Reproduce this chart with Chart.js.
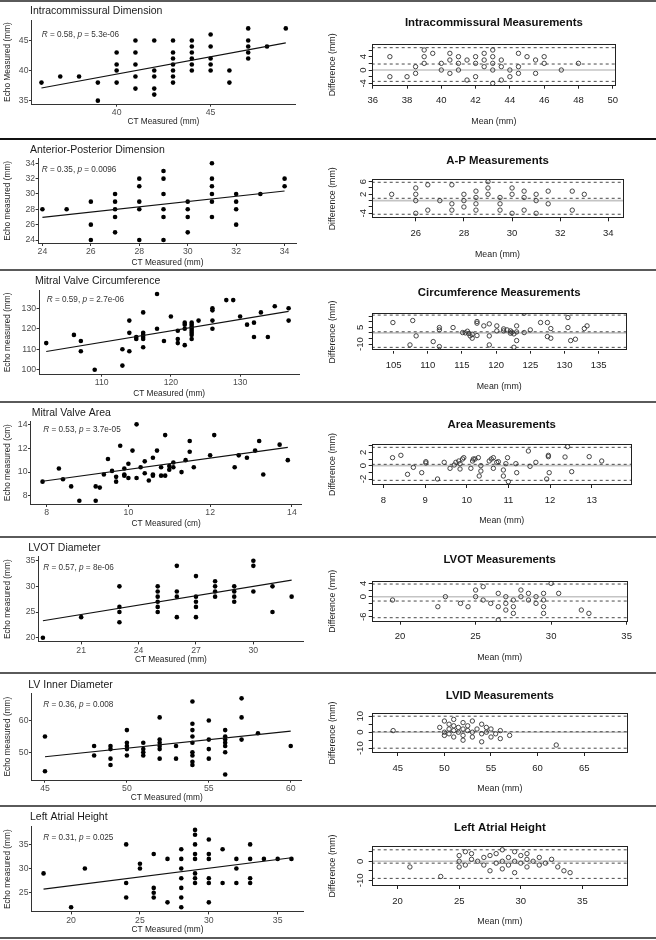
<!DOCTYPE html>
<html>
<head>
<meta charset="utf-8">
<title>CT vs Echo measurements</title>
<script src="https://cdn.jsdelivr.net/npm/chart.js@4.4.1/dist/chart.umd.min.js"></script>
<style>
  html, body { margin: 0; padding: 0; background: #fff; }
  body { position: relative; width: 656px; height: 940px; overflow: hidden; }
  canvas { position: absolute; }
  .rule { position: absolute; left: 0; width: 656px; height: 2px; background: #5a5a5a; }
</style>
</head>
<body>
<script>
const FONT = "'Liberation Sans', Arial, Helvetica, sans-serif";
Chart.defaults.font.family = FONT;
Chart.defaults.animation = false;

// y of the horizontal rules between rows
const rowRules = [1, 139, 270, 402, 537, 673, 806, 938];

// ---------- Intracommissural ----------
const icCT   = [36,37,38,39,39,40,40,40,40,41,41,41,41,41,42,42,42,42,42,43,43,43,43,43,43,43,44,44,44,44,44,44,45,45,45,45,45,46,46,47,47,47,47,47,48,49];
const icEcho = [38,39,39,38,35,43,41,40,38,45,43,41,39,37,45,40,39,37,36,45,43,42,41,40,39,38,45,44,43,42,41,40,46,44,42,41,40,40,38,47,45,44,43,42,44,47];
const icFitX = [36, 49];
const icFitY = [37.1, 44.6];
const icStat = ['0.58', '5.3e-06'];
const icXTicks = [40, 45];
const icYTicks = [35, 40, 45];
const icMean = [37,37,38,38.5,38.5,39,39,39,39.5,40,40,40.5,40.5,40.5,41,41,41,41.5,41.5,42,42,42,42.5,42.5,42.5,43,43,43,43,43,43.5,43.5,43.5,44,44,44.5,44.5,44.5,45,45.5,45.5,46,46,47,48];
const icDiff = [4,-2,-2,1,-1,6,4,2,5,2,0,5,3,-1,4,2,0,3,-3,4,2,-2,5,3,1,6,4,2,0,-4,3,1,-3,0,-2,5,1,-1,4,3,-1,4,2,0,2];
const icLoA  = [-3.4, 1.8, 6.7];
const icBaXTicks = [36, 38, 40, 42, 44, 46, 48, 50];
const icBaYTicks = [-4, -2, 0, 2, 4, 6];
const icBaYLabels = [-4, 0, 4];

// ---------- Anterior-Posterior ----------
const apCT   = [24,25,26,26,26,27,27,27,27,27,28,28,28,28,28,29,29,29,29,29,29,30,30,30,30,31,31,31,31,31,31,32,32,32,32,33,34,34];
const apEcho = [28,28,29,26,24,30,29,28,27,25,32,31,29,28,24,33,32,30,28,27,24,29,28,27,25,34,32,31,30,29,27,30,29,28,26,30,32,31];
const apFitX = [24, 34];
const apFitY = [26.96, 30.39];
const apStat = ['0.35', '0.0096'];
const apXTicks = [24, 26, 28, 30, 32, 34];
const apYTicks = [24, 26, 28, 30, 32, 34];
const apMean = [25,26,26,26,26,26.5,26.5,27,27.5,27.5,27.5,28,28,28,28.5,28.5,28.5,28.5,29,29,29,29.5,29.5,29.5,30,30,30,30.5,30.5,30.5,31,31,31,31.5,31.5,32.5,32.5,33];
const apDiff = [2,4,2,0,-4,5,-3,0,5,-1,-3,2,0,-2,3,1,-1,-3,6,4,2,1,-1,-3,4,2,-4,3,1,-3,2,0,-4,3,-1,3,-3,2];
const apLoA  = [-4.3, 0.74, 5.8];
const apBaXTicks = [26, 28, 30, 32, 34];
const apBaYTicks = [-4, -2, 0, 2, 4, 6];
const apBaYLabels = [-4, 2, 6];

// ---------- Mitral valve circumference ----------
const mcCT   = [102,106,107,107,109,113,113,114,114,114,115,115,116,116,116,116,116,116,118,118,119,120,121,121,121,122,122,122,122,123,123,123,123,123,123,123,123,124,126,126,126,126,128,129,130,131,132,132,133,134,135,137,137];
const mcEcho = [113,117,114,109,100,110,102,124,118,109,116,115,128,118,117,116,115,111,120,137,114,126,119,115,113,123,122,120,112,123,122,121,120,119,118,117,115,124,130,129,124,120,134,134,126,122,123,116,128,116,131,130,124];
const mcFitX = [102, 137];
const mcFitY = [108.9, 128.5];
const mcStat = ['0.59', '2.7e-06'];
const mcXTicks = [110, 120, 130];
const mcYTicks = [100, 110, 120, 130];
const cmMean = [104.9,107.4,107.8,108.3,110.8,111.7,111.7,111.7,113.7,115.1,115.5,115.8,116,116.2,116.5,116.5,117.2,117.2,117.2,118.2,119,119,119,120.1,120.1,121.1,121.1,121.6,122.1,122.1,122.3,122.6,122.6,123,123,123,124.1,124.1,125,126.5,127.5,127.5,128,128,130.5,130.5,130.9,131.6,132.9,133.3];
const cmDiff = [9.3,-10.8,11.1,-2.7,-7.8,4.8,2.7,-12.3,4.8,0.3,0,1.5,-0.6,-2.7,-4.8,-1.2,8.7,10.2,-2.4,6.3,8.1,-2.7,-10.8,6.3,1.8,3.6,1.8,2.7,1.8,-0.3,0.6,-0.9,-12.9,6.3,-6.9,0.9,0.3,17.7,2.7,9.3,9.3,-3.3,3.9,-4.8,13.8,4.8,-6.9,-5.7,3.9,6.3];
const cmLoA  = [-13, 1, 16];
const cmBaXTicks = [105, 110, 115, 120, 125, 130, 135];
const cmBaYTicks = [-10, -5, 0, 5, 10, 15];
const cmBaYLabels = [-10, 5];

// ---------- Mitral valve area ----------
const maCT   = [7.9,8.3,8.4,8.6,8.8,9.2,9.3,9.2,9.4,9.5,9.6,9.7,9.7,9.8,9.9,9.9,9.9,10,10,10.1,10.2,10.2,10.3,10.4,10.4,10.5,10.6,10.6,10.6,10.7,10.8,10.8,10.9,10.9,11,11,11.1,11.1,11.3,11.4,11.5,11.5,11.6,12,12.1,12.6,12.7,12.9,13.1,13.2,13.3,13.7,13.9];
const maEcho = [9.2,10.3,9.4,8.8,7.6,8.8,8.7,7.6,9.8,11.1,10.1,9.6,9.2,12.2,10.3,9.8,9.7,10.7,9.5,11.8,14.0,9.5,10.4,10.9,9.9,9.3,11.2,9.8,9.7,11.8,10.4,9.7,13.1,9.7,10.5,10.2,10.8,10.4,10.0,11.0,12.6,11.7,10.4,11.4,13.1,10.4,11.4,11.2,11.8,12.6,9.8,12.3,11.0];
const maFitX = [7.9, 13.9];
const maFitY = [9.23, 12.07];
const maStat = ['0.53', '3.7e-05'];
const maXTicks = [8, 10, 12, 14];
const maYTicks = [8, 10, 12, 14];
const arMean = [8.22,8.42,8.58,8.72,8.92,9.02,9.02,9.3,9.46,9.6,9.7,9.74,9.81,9.84,9.84,9.9,9.93,10.1,10.14,10.16,10.2,10.28,10.3,10.34,10.34,10.54,10.59,10.64,10.64,10.72,10.76,10.88,10.88,10.94,10.98,11.0,11.18,11.2,11.48,11.52,11.66,11.92,11.96,11.96,11.98,12.36,12.42,12.52,12.94,13.24];
const arDiff = [1.2,1.55,-1.3,-0.25,-1.05,0.6,0.4,-2.0,0.5,-0.4,0.1,0.5,0.7,0.3,-0.5,1.0,1.2,-0.4,0.7,1.0,1.0,1.2,-1.55,-0.8,0,0.7,1.0,-0.4,1.2,0.5,0.6,-0.65,-1.55,0.3,1.2,-2.4,0.3,-1.05,2.2,-0.1,0.5,-2.0,1.55,1.35,-1.05,1.3,2.85,-0.9,1.35,0.7];
const arLoA  = [-2.2, 0.2, 2.75];
const arBaXTicks = [8, 9, 10, 11, 12, 13];
const arBaYTicks = [-2, -1, 0, 1, 2, 3];
const arBaYLabels = [-2, 0, 2];

// ---------- LVOT ----------
const lvCT   = [19,21,23,23,23,23,25,25,25,25,25,25,26,26,26,26,27,27,27,27,27,28,28,28,28,29,29,29,29,30,30,30,31,31,32];
const lvEcho = [20,24,30,26,25,23,30,29,28,27,26,25,34,29,28,24,32,28,27,26,24,31,30,29,28,30,29,28,27,35,34,29,30,25,28];
const lvFitX = [19, 32];
const lvFitY = [23.3, 31.2];
const lvStat = ['0.57', '8e-06'];
const lvXTicks = [21, 24, 27, 30];
const lvYTicks = [20, 25, 30, 35];
const loMean = [19.5,22.5,23,24,24.5,25,25,25.5,25.5,26,26.5,26.5,26.5,27,27,27,27.5,27.5,27.5,28,28,28.5,28.5,29,29,29.5,29.5,29.5,29.5,30,30.5,32,32.5];
const loDiff = [-1,-3,0,-2,-3,2,0,3,-1,-2,1,-3,-7,0,-2,-4,-1,-3,-5,2,0,1,-1,0,-2,1,-1,-3,-5,4,1,-4,-5];
const loLoA  = [-6.3, -1.3, 3.8];
const loBaXTicks = [20, 25, 30, 35];
const loBaYTicks = [-6, -4, -2, 0, 2, 4];
const loBaYLabels = [-6, 0, 4];

// ---------- LV inner diameter ----------
const ldCT   = [45,45,48,48,49,49,49,49,50,50,50,50,50,51,51,51,51,52,52,52,52,52,52,53,53,54,54,54,54,54,54,54,54,54,55,55,55,55,56,56,56,56,56,56,56,57,57,57,58,60];
const ldEcho = [55,44,52,49,52,51,48,46,57,53,52,51,49,53,51,50,49,61,54,53,52,51,48,52,48,66,59,57,55,53,50,49,47,46,60,54,51,48,57,55,54,53,52,50,43,67,61,54,56,52];
const ldFitX = [45, 60];
const ldFitY = [48.6, 56.7];
const ldStat = ['0.36', '0.008'];
const ldXTicks = [45, 50, 55, 60];
const ldYTicks = [50, 60];
const lidMean = [44.5,49.5,50,50,50,50.5,50.5,50.5,51,51,51,51,51.5,51.5,52,52,52,52,52.5,52.5,53,53,53,53.5,54,54,54,54.5,54.5,55,55,55.5,56,56,57,62];
const lidDiff = [1,3,7,0,-2,5,2,-1,8,4,1,-3,3,0,6,2,-2,-5,1,4,7,0,-3,2,5,-1,-6,3,0,2,-3,-1,1,-4,-2,-8];
const lidLoA  = [-10, 0.3, 10];
const lidBaXTicks = [45, 50, 55, 60, 65];
const lidBaYTicks = [-10, -5, 0, 5, 10];
const lidBaYLabels = [-10, 0, 10];

// ---------- Left atrial height ----------
const laCT   = [18,20,21,24,24,24,25,25,26,26,26,26,27,27,28,28,28,28,28,28,28,29,29,29,29,29,29,29,29,30,30,30,30,30,30,31,31,32,32,32,33,33,33,33,34,35,36];
const laEcho = [29,22,30,35,27,24,31,30,33,26,25,24,32,23,34,32,30,28,26,24,22,38,37,35,33,32,29,28,27,36,33,32,28,27,23,34,27,32,30,27,35,32,28,27,32,32,32];
const laFitX = [18, 36];
const laFitY = [25.76, 32.24];
const laStat = ['0.31', '0.025'];
const laXTicks = [20, 25, 30, 35];
const laYTicks = [25, 30, 35];
const lahMean = [21,23.5,25,25,25,25.5,25.5,26,26,26.5,27,27,27.5,27.5,28,28,28.5,28.5,28.5,29,29,29.5,29.5,29.5,30,30,30.5,30.5,30.5,31,31.5,31.5,32,32.5,33,33.5,34];
const lahDiff = [-3,-8,3,0,-3,5,-2,4,1,0,-2,2,3,-5,4,-1,6,0,-4,2,-2,5,0,-6,3,-1,4,1,-3,0,2,-2,-1,1,-3,-5,-6];
const lahLoA  = [-9, -1, 6];
const lahBaXTicks = [20, 25, 30, 35];
const lahBaYTicks = [-10, -5, 0, 5];
const lahBaYLabels = [-10, 0];

// ===== panel layout =====
const scatterPanels = [
  { row: 0, title: 'Intracommissural Dimension', yTitle: 'Echo Measured (mm)', xTitle: 'CT Measured (mm)',
    ct: icCT, echo: icEcho, fitX: icFitX, fitY: icFitY, stat: icStat, xTicks: icXTicks, yTicks: icYTicks,
    xRange: [35.48, 49.49], yRange: [34.44, 48.4], area: [31.7, 20, 295, 104], titleAt: [30, 11.5], statAt: [41.7, 35], xTitleY: 122 },
  { row: 1, title: 'Anterior-Posterior Dimension', yTitle: 'Echo measured (mm)', xTitle: 'CT Measured (mm)',
    ct: apCT, echo: apEcho, fitX: apFitX, fitY: apFitY, stat: apStat, xTicks: apXTicks, yTicks: apYTicks,
    xRange: [23.83, 34.5], yRange: [23.57, 34.65], area: [38.3, 158.3, 296.7, 243.3], titleAt: [30, 150.3], statAt: [41.7, 169.3], xTitleY: 262.7 },
  { row: 2, title: 'Mitral Valve Circumference', yTitle: 'Echo measured (mm)', xTitle: 'CT Measured (mm)',
    ct: mcCT, echo: mcEcho, fitX: mcFitX, fitY: mcFitY, stat: mcStat, xTicks: mcXTicks, yTicks: mcYTicks,
    xRange: [101, 138.5], yRange: [97.9, 138.6], area: [39.3, 290.7, 299, 374], titleAt: [35, 281.2], statAt: [46.7, 299.3], xTitleY: 393.5 },
  { row: 3, title: 'Mitral Valve Area', yTitle: 'Echo measured (cm)', xTitle: 'CT Measured (cm)',
    ct: maCT, echo: maEcho, fitX: maFitX, fitY: maFitY, stat: maStat, xTicks: maXTicks, yTicks: maYTicks,
    xRange: [7.61, 14.24], yRange: [7.3, 14.28], area: [30.7, 421, 301.7, 504.3], titleAt: [31.7, 413.3], statAt: [43.3, 430], xTitleY: 523.3 },
  { row: 4, title: 'LVOT Diameter', yTitle: 'Echo measured (mm)', xTitle: 'CT Measured (mm)',
    ct: lvCT, echo: lvEcho, fitX: lvFitX, fitY: lvFitY, stat: lvStat, xTicks: lvXTicks, yTicks: lvYTicks,
    xRange: [18.77, 32.61], yRange: [19.22, 35.78], area: [38.5, 556.7, 303.3, 641.7], titleAt: [28.3, 548.3], statAt: [43.3, 567.3], xTitleY: 660 },
  { row: 5, title: 'LV Inner Diameter', yTitle: 'Echo measured (mm)', xTitle: 'CT Measured (mm)',
    ct: ldCT, echo: ldEcho, fitX: ldFitX, fitY: ldFitY, stat: ldStat, xTicks: ldXTicks, yTicks: ldYTicks,
    xRange: [44.19, 60.67], yRange: [41.26, 68.6], area: [31.7, 693.3, 301.7, 780], titleAt: [28.3, 685.3], statAt: [43.3, 705], xTitleY: 797.5 },
  { row: 6, title: 'Left Atrial Height', yTitle: 'Echo measured (mm)', xTitle: 'CT Measured (mm)',
    ct: laCT, echo: laEcho, fitX: laFitX, fitY: laFitY, stat: laStat, xTicks: laXTicks, yTicks: laYTicks,
    xRange: [17.14, 36.86], yRange: [21.07, 38.66], area: [31.7, 826.7, 303.3, 911.7], titleAt: [30, 817.2], statAt: [43.3, 837.7], xTitleY: 930 }
];

const baPanels = [
  { row: 0, title: 'Intracommissural Measurements', mean: icMean, diff: icDiff, loa: icLoA,
    xTicks: icBaXTicks, yTicks: icBaYTicks, yLabels: icBaYLabels,
    xRange: [35.94, 50.19], yRange: [-4.7, 7.8], area: [371.7, 44, 616, 85.7], titleY: 23.3 },
  { row: 1, title: 'A-P Measurements', mean: apMean, diff: apDiff, loa: apLoA,
    xTicks: apBaXTicks, yTicks: apBaYTicks, yLabels: apBaYLabels,
    xRange: [24.17, 34.62], yRange: [-5.58, 6.74], area: [371.7, 179.3, 623.3, 218.3], titleY: 161 },
  { row: 2, title: 'Circumference Measurements', mean: cmMean, diff: cmDiff, loa: cmLoA,
    xTicks: cmBaXTicks, yTicks: cmBaYTicks, yLabels: cmBaYLabels,
    xRange: [101.8, 139.1], yRange: [-16, 17.6], area: [371.7, 313.3, 626.7, 350.7], titleY: 293.3 },
  { row: 3, title: 'Area Measurements', mean: arMean, diff: arDiff, loa: arLoA,
    xTicks: arBaXTicks, yTicks: arBaYTicks, yLabels: arBaYLabels,
    xRange: [7.72, 13.96], yRange: [-2.9, 3.25], area: [371.7, 444, 631.7, 485], titleY: 425 },
  { row: 4, title: 'LVOT Measurements', mean: loMean, diff: loDiff, loa: loLoA,
    xTicks: loBaXTicks, yTicks: loBaYTicks, yLabels: loBaYLabels,
    xRange: [18.12, 35.07], yRange: [-7.5, 4.8], area: [371.7, 580.7, 627.7, 621.7], titleY: 560 },
  { row: 5, title: 'LVID Measurements', mean: lidMean, diff: lidDiff, loa: lidLoA,
    xTicks: lidBaXTicks, yTicks: lidBaYTicks, yLabels: lidBaYLabels,
    xRange: [42.2, 69.7], yRange: [-13, 12], area: [371.7, 713, 628, 753], titleY: 696 },
  { row: 6, title: 'Left Atrial Height', mean: lahMean, diff: lahDiff, loa: lahLoA,
    xTicks: lahBaXTicks, yTicks: lahBaYTicks, yLabels: lahBaYLabels,
    xRange: [17.9, 38.7], yRange: [-13, 8], area: [371.7, 846, 628, 886], titleY: 828 }
];

// ===== plugins =====
// ggplot-style panel title and the "R = .., p = .." label (R and p in italics)
const ggLabels = {
  id: 'ggLabels',
  afterDraw(chart, args, o) {
    const ctx = chart.ctx;
    ctx.save();
    ctx.textBaseline = 'middle';
    ctx.textAlign = 'left';
    ctx.fillStyle = '#1a1a1a';
    ctx.font = '10.5px ' + FONT;
    ctx.fillText(o.title, o.titleAt[0], o.titleAt[1]);
    ctx.fillStyle = '#333';
    const parts = [['R', true], [' = ' + o.stat[0] + ', ', false], ['p', true], [' = ' + o.stat[1], false]];
    let x = o.statAt[0];
    for (const [txt, italic] of parts) {
      ctx.font = (italic ? 'italic ' : '') + '8.2px ' + FONT;
      ctx.fillText(txt, x, o.statAt[1]);
      x += ctx.measureText(txt).width;
    }
    ctx.restore();
  }
};

// base-R style box around the plot region
const frameBox = {
  id: 'frameBox',
  afterDraw(chart) {
    const {ctx, chartArea: a} = chart;
    ctx.save();
    ctx.strokeStyle = '#222';
    ctx.lineWidth = 1;
    ctx.strokeRect(Math.round(a.left) + 0.5, Math.round(a.top) + 0.5,
                   Math.round(a.right - a.left) - 1, Math.round(a.bottom - a.top) - 1);
    ctx.restore();
  }
};

function addCanvas(x, y, w, h) {
  const c = document.createElement('canvas');
  c.width = w; c.height = h;
  c.style.left = x + 'px'; c.style.top = y + 'px';
  c.style.width = w + 'px'; c.style.height = h + 'px';
  document.body.appendChild(c);
  return c;
}

function rowBox(row) {
  const top = rowRules[row] + 2;
  return { top, h: rowRules[row + 1] - top - 1 };
}

function scatterPanel(p) {
  const { top, h } = rowBox(p.row);
  const left = 0, w = 326;
  const [l, t, r, b] = p.area;
  const tickFont = 8.7, axFont = 8.3;
  new Chart(addCanvas(left, top, w, h), {
    type: 'scatter',
    data: {
      datasets: [
        { data: p.fitX.map((x, i) => ({ x, y: p.fitY[i] })), showLine: true,
          borderColor: '#111', borderWidth: 1.2, pointRadius: 0 },
        { data: p.ct.map((x, i) => ({ x, y: p.echo[i] })),
          pointRadius: 2.3, pointBackgroundColor: '#000', pointBorderWidth: 0, borderWidth: 0 }
      ]
    },
    options: {
      responsive: false,
      events: [],
      layout: { padding: { left: 0, top: t - top, right: left + w - r, bottom: 0 } },
      plugins: {
        legend: { display: false },
        tooltip: { enabled: false },
        ggLabels: { title: p.title, stat: p.stat,
          titleAt: [p.titleAt[0] - left, p.titleAt[1] - top],
          statAt: [p.statAt[0] - left, p.statAt[1] - top] }
      },
      scales: {
        x: {
          type: 'linear', min: p.xRange[0], max: p.xRange[1],
          afterBuildTicks: s => { s.ticks = p.xTicks.map(v => ({ value: v })); },
          afterFit: s => { s.height = top + h - b; },
          border: { display: true, color: '#333', width: 1 },
          grid: { drawOnChartArea: false, drawTicks: true, tickLength: 2.7, color: '#333' },
          ticks: { color: '#4d4d4d', font: { size: tickFont }, padding: 0.5, maxRotation: 0, autoSkip: false },
          title: { display: true, text: p.xTitle, color: '#222', font: { size: axFont },
                   padding: { top: 0, bottom: top + h - p.xTitleY - axFont * 0.6 } }
        },
        y: {
          type: 'linear', min: p.yRange[0], max: p.yRange[1],
          afterBuildTicks: s => { s.ticks = p.yTicks.map(v => ({ value: v })); },
          afterFit: s => { s.width = l - left; },
          border: { display: true, color: '#333', width: 1 },
          grid: { drawOnChartArea: false, drawTicks: true, tickLength: 2.7, color: '#333' },
          ticks: { color: '#4d4d4d', font: { size: tickFont }, padding: 0.5, autoSkip: false },
          title: { display: true, text: p.yTitle, color: '#222', font: { size: axFont },
                   padding: { top: 8 - left - axFont * 0.6, bottom: 0 } }
        }
      }
    },
    plugins: [ggLabels]
  });
}

function baPanel(p) {
  const { top, h } = rowBox(p.row);
  const left = 327, w = 329;
  const [l, t, r, b] = p.area;
  const tSize = 11.4, tLh = tSize * 1.2;
  const tickFont = 9.5, labFont = 8.8;
  const padTop = p.titleY - top - tLh / 2;
  const hline = (v) => [{ x: p.xRange[0], y: v }, { x: p.xRange[1], y: v }];
  new Chart(addCanvas(left, top, w, h), {
    type: 'scatter',
    data: {
      datasets: [
        { data: p.mean.map((x, i) => ({ x, y: p.diff[i] })),
          pointRadius: 2.2, pointBackgroundColor: 'rgba(0,0,0,0)', pointBorderColor: '#333', pointBorderWidth: 0.9 },
        ...p.loa.map(v => ({ data: hline(v), showLine: true, borderColor: '#4a4a4a', borderWidth: 1,
                             borderDash: [3, 3], pointRadius: 0 })),
        { data: hline(0), showLine: true, borderColor: '#c4c4c4', borderWidth: 1.6, pointRadius: 0 }
      ]
    },
    options: {
      responsive: false,
      events: [],
      layout: { padding: { left: 0, top: 0, right: left + w - r, bottom: 0 } },
      plugins: {
        legend: { display: false },
        tooltip: { enabled: false },
        title: { display: true, text: p.title, fullSize: false, color: '#111',
                 font: { size: tSize, weight: 'bold' },
                 padding: { top: padTop, bottom: t - top - padTop - tLh } }
      },
      scales: {
        x: {
          type: 'linear', min: p.xRange[0], max: p.xRange[1],
          afterBuildTicks: s => { s.ticks = p.xTicks.map(v => ({ value: v })); },
          afterFit: s => { s.height = top + h - b; },
          border: { display: false },
          grid: { drawOnChartArea: false, drawTicks: true, tickLength: 3, color: '#222' },
          ticks: { color: '#222', font: { size: tickFont }, padding: 15 - 3 - tickFont * 0.6, maxRotation: 0, autoSkip: false },
          title: { display: true, text: 'Mean (mm)', color: '#222', font: { size: labFont },
                   padding: { top: 0, bottom: top + h - (b + 36) - labFont * 0.6 } }
        },
        y: {
          type: 'linear', min: p.yRange[0], max: p.yRange[1],
          afterBuildTicks: s => { s.ticks = p.yTicks.map(v => ({ value: v })); },
          afterFit: s => { s.width = l - left; },
          border: { display: false },
          grid: { drawOnChartArea: false, drawTicks: true, tickLength: 3, color: '#222' },
          ticks: { color: '#222', font: { size: tickFont }, padding: 1, minRotation: 90, maxRotation: 90,
                   crossAlign: 'center', autoSkip: false,
                   callback: v => p.yLabels.includes(v) ? String(v) : '' },
          title: { display: true, text: 'Difference (mm)', color: '#222', font: { size: labFont },
                   padding: { top: Math.max(0, 332.5 - left - labFont * 0.6), bottom: 0 } }
        }
      }
    },
    plugins: [frameBox]
  });
}

// horizontal rules between rows
rowRules.forEach((y, i) => {
  const d = document.createElement('div');
  d.className = 'rule';
  d.style.top = (y - 1) + 'px';
  if (i === 1) d.style.background = '#111';
  document.body.appendChild(d);
});

scatterPanels.forEach(scatterPanel);
baPanels.forEach(baPanel);
</script>
</body>
</html>
